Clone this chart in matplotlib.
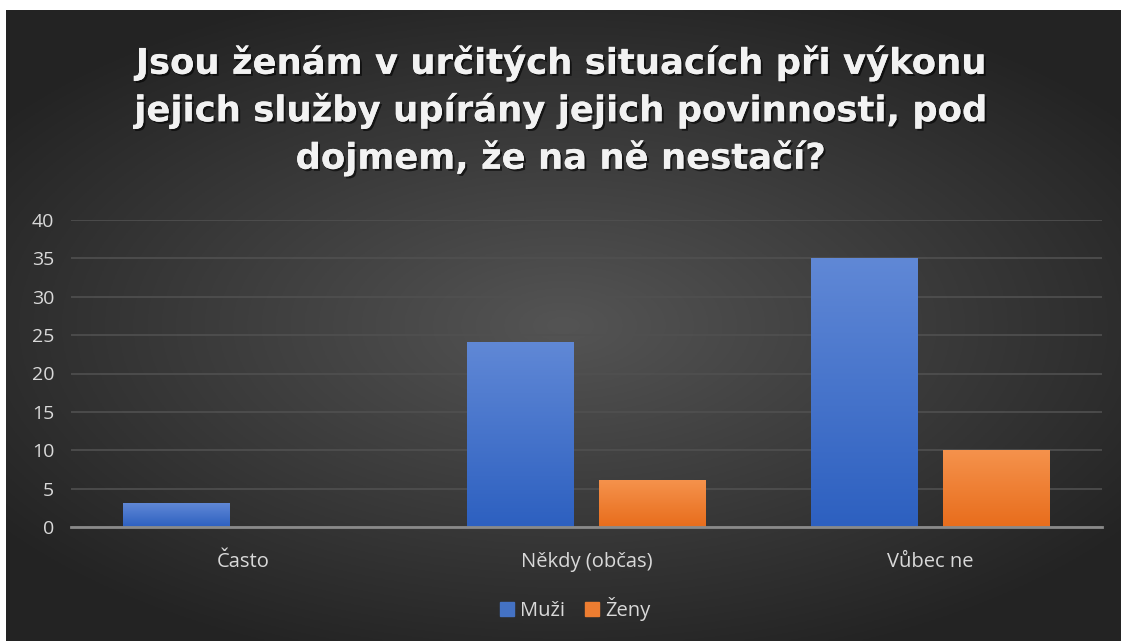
import numpy as np
import matplotlib.pyplot as plt
import matplotlib.patheffects as pe

categories = ["Často", "Někdy (občas)", "Vůbec ne"]
muzi = [3, 24, 35]
zeny = [0, 6, 10]
series_names = ["Muži", "Ženy"]
title = "Jsou ženám v určitých situacích při výkonu\njejich služby upírány jejich povinnosti, pod\ndojmem, že na ně nestačí?"

W, H = 1121, 641
fig = plt.figure(figsize=(W / 100, H / 100), dpi=100)
fig.patch.set_facecolor("white")

# dark radial background
bg = fig.add_axes([6 / W, 0, 1 - 6 / W, 1 - 10 / H])
yy, xx = np.mgrid[-1:1:300j, -1:1:500j]
r = np.sqrt((xx * 0.9) ** 2 + (yy * 1.0) ** 2)
shade = np.clip(0.33 - 0.17 * r, 0.14, 0.34)
bg.imshow(np.dstack([shade] * 3), aspect="auto", extent=[0, 1, 0, 1])
bg.axis("off")

ax = fig.add_axes([71 / W, 1 - 527 / H, (1102 - 71) / W, (527 - 220) / H])
ax.patch.set_alpha(0)

x = np.arange(len(categories))
bw = 0.311
off = 0.192

def grad_bars(xs, vals, top, bottom):
    bars = ax.bar(xs, vals, bw, color="none", zorder=3)
    grad = np.linspace(0, 1, 100).reshape(-1, 1)
    c1 = np.array(plt.matplotlib.colors.to_rgb(top))
    c2 = np.array(plt.matplotlib.colors.to_rgb(bottom))
    img = c1[None, None, :] * (1 - grad[:, :, None]) + c2[None, None, :] * grad[:, :, None]
    for b in bars:
        if b.get_height() <= 0:
            continue
        x0, y0 = b.get_x(), b.get_y()
        ax.imshow(img, aspect="auto", extent=[x0, x0 + b.get_width(), y0, y0 + b.get_height()],
                  origin="upper", zorder=3)
    return bars

grad_bars(x - off, muzi, "#6088d6", "#2d60c0")
grad_bars(x + off, zeny, "#f5924c", "#e86d1c")

ax.set_xlim(-0.5, 2.5)
ax.set_ylim(0, 40)
ax.set_yticks(range(0, 41, 5))
ax.set_xticks(x)
ax.set_xticklabels(categories)
ax.yaxis.grid(True, color="#505050", lw=1.2, zorder=0)
ax.set_axisbelow(True)
for s in ["top", "right", "left"]:
    ax.spines[s].set_visible(False)
ax.spines["bottom"].set_color("#8a8a8a")
ax.spines["bottom"].set_linewidth(2)
ax.spines["bottom"].set_zorder(4)
ax.tick_params(length=0, colors="#d9d9d9")
ax.tick_params(axis="x", pad=18, labelsize=14.5)
ax.tick_params(axis="y", pad=12, labelsize=14)
for lbl in ax.get_xticklabels() + ax.get_yticklabels():
    lbl.set_family("Open Sans")

fig.text(0.5, 1 - 110 / H, title, ha="center", va="center", color="#f2f2f2",
         fontsize=25.5, fontweight="bold", family="DejaVu Sans", linespacing=1.42,
         path_effects=[pe.withSimplePatchShadow(offset=(1.5, -1.5), shadow_rgbFace="black", alpha=0.6), pe.Normal()])

handles = [plt.Rectangle((0, 0), 1, 1, color="#4472c4"), plt.Rectangle((0, 0), 1, 1, color="#ed7d31")]
fig.legend(handles, series_names, loc="center", bbox_to_anchor=(0.513, 1 - 609 / H), ncol=2,
           frameon=False, labelcolor="#d9d9d9", handlelength=0.7, handleheight=0.7,
           handletextpad=0.3, columnspacing=1.0, prop={"family": "Open Sans", "size": 14.5})

fig.savefig("out.png", dpi=100)
